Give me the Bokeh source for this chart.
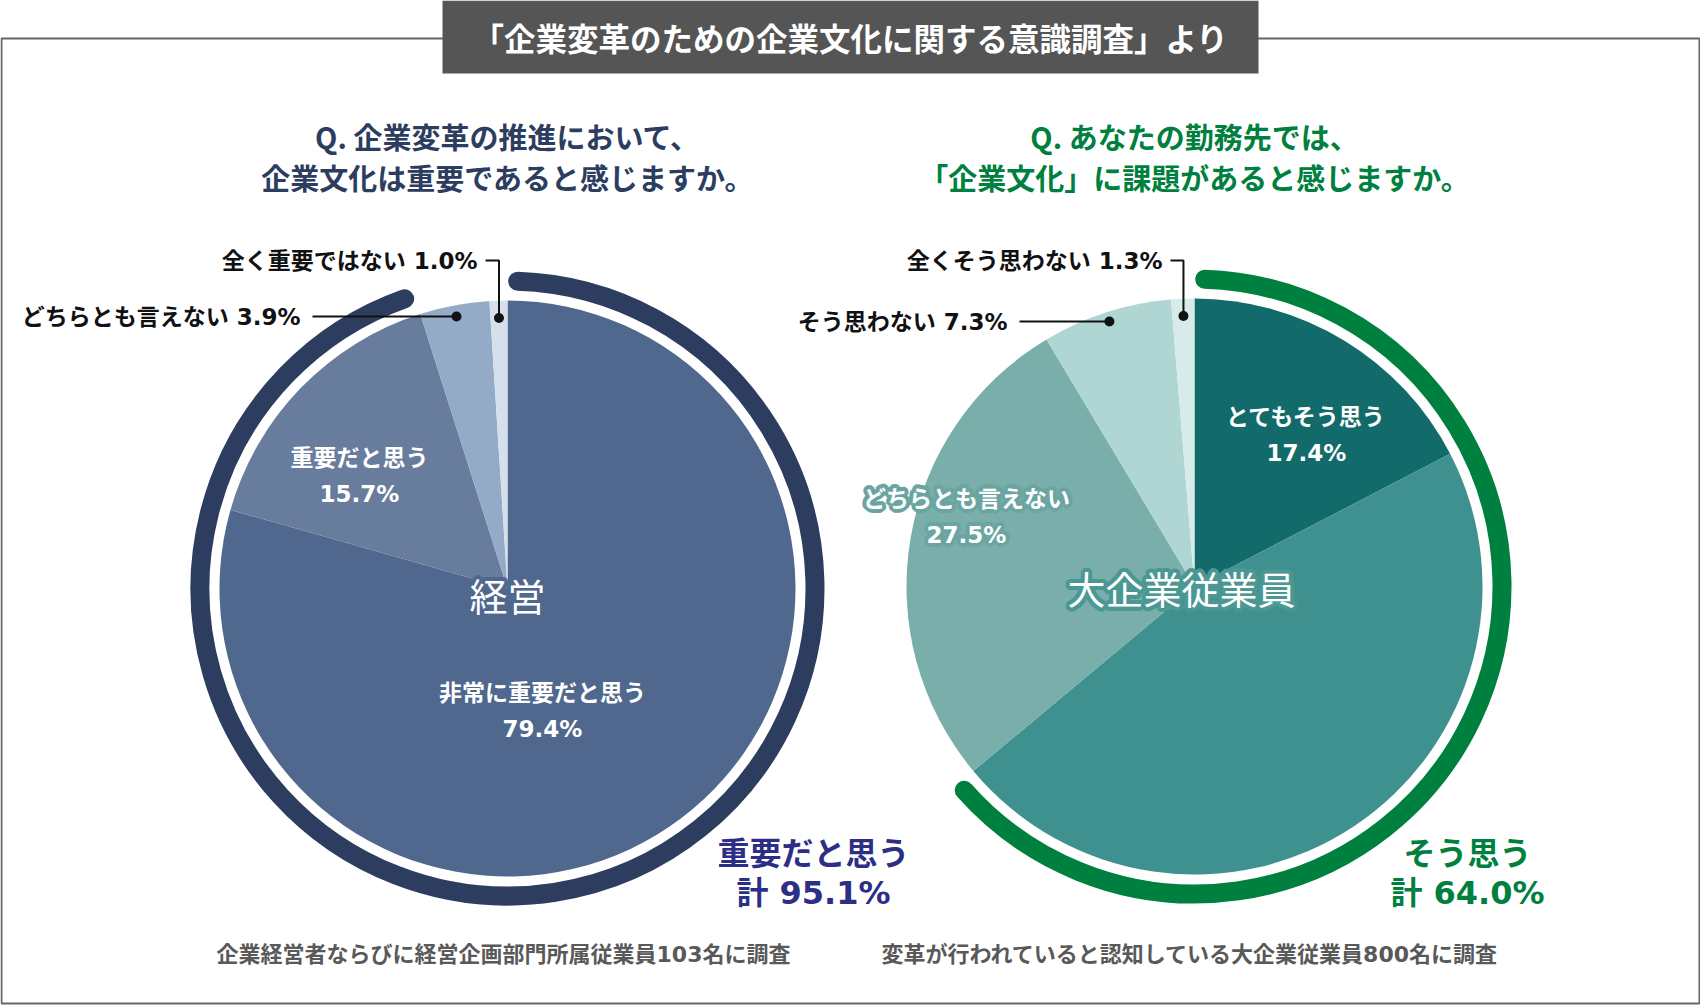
import numpy as np
from bokeh.plotting import figure
from bokeh.models import Range1d
from bokeh.core.properties import value
from bokeh.embed import file_html
from bokeh.resources import INLINE

W, H = 1700, 1005
FONT = value("Noto Sans CJK JP")
# wide Latin digits, Japanese glyphs fall back to Noto
NUM_FONT = value("'DejaVu Sans', 'Noto Sans CJK JP'")

# --- survey data ---------------------------------------------------------
title = "「企業変革のための企業文化に関する意識調査」より"

mgmt_question = ["Q. 企業変革の推進において、", "企業文化は重要であると感じますか。"]
mgmt_group = "経営"
mgmt_cats = ["非常に重要だと思う", "重要だと思う", "どちらとも言えない", "全く重要ではない"]
mgmt_vals = [79.4, 15.7, 3.9, 1.0]
mgmt_total_label = "重要だと思う"
mgmt_note = "企業経営者ならびに経営企画部門所属従業員103名に調査"

emp_question = ["Q. あなたの勤務先では、", "「企業文化」に課題があると感じますか。"]
emp_group = "大企業従業員"
emp_cats = ["とてもそう思う", "そう思う", "どちらとも言えない", "そう思わない", "全くそう思わない"]
emp_vals = [17.4, 46.6, 27.5, 7.3, 1.3]
emp_total_label = "そう思う"
emp_note = "変革が行われていると認知している大企業従業員800名に調査"

# --- styling ---------------------------------------------------------------
mgmt_colors = ["#50688e", "#687d9d", "#94abc8", "#d5e0ec"]
emp_colors = ["#136a6a", "#3e918f", "#79aeab", "#b0d6d4", "#d7ebea"]
NAVY = "#2c3d5f"
INDIGO = "#2d2f86"
GREEN = "#00803e"

R = 288          # pie radius (px)
RING_GAP = 19.5  # distance from pie edge to the middle of the summary ring
RING_W = 19
CAP = np.deg2rad(1.9)

# offsets used to paint a soft halo behind white text
_h = [(4 * np.cos(a), 4 * np.sin(a)) for a in np.linspace(0, 2 * np.pi, 16, endpoint=False)]
_h += [(2 * np.cos(a), 2 * np.sin(a)) for a in np.linspace(0, 2 * np.pi, 8, endpoint=False)]
HALO = _h


def Y(v):
    """Convert a top-down pixel position to the plot's y coordinate."""
    return H - v


def ang(frac):
    """Bokeh angle for a fraction of the circle, clockwise from 12 o'clock."""
    return np.pi / 2 - 2 * np.pi * frac


def polar(cx, cy, r, frac):
    t = 2 * np.pi * frac
    return cx + r * np.sin(t), cy - r * np.cos(t)


p = figure(width=W, height=H, x_range=Range1d(0, W), y_range=Range1d(0, H),
           output_backend="svg", toolbar_location=None, min_border=0,
           x_axis_location=None, y_axis_location=None)
p.grid.visible = False
p.outline_line_color = None
p.background_fill_color = "white"
p.border_fill_color = "white"


def halo_text(x, y, text, color, halo, **kw):
    """White text with a coloured halo around the glyphs."""
    if halo:
        hx = [xi + dx for xi in x for dx, dy in HALO]
        hy = [yi + dy for yi in y for dx, dy in HALO]
        ht = [t for t in text for _ in HALO]
        p.text(x=hx, y=hy, text=ht, text_color=halo, **kw)
    p.text(x=x, y=y, text=text, text_color=color, **kw)


# frame and heading box
p.quad(left=1, right=W - 1, top=Y(38), bottom=Y(1003), fill_color=None,
       line_color="#666666", line_width=2)
p.quad(left=442, right=1258, top=Y(0), bottom=Y(73), fill_color="#555555",
       line_color=None)
p.text(x=[850], y=[Y(36)], text=[title], text_font=FONT, text_font_size="31.5px",
       text_font_style="bold", text_color="white", text_align="center",
       text_baseline="middle")


def draw_panel(cx, cy, r_pie, cats, vals, colors, n_total, qcolor, ring_color,
               total_color, question, group, total_label, note, group_halo,
               inner_labels, outer_labels, total_xy, group_xy):
    vals = np.asarray(vals, dtype=float)
    fr = vals / vals.sum()
    cum = np.concatenate([[0], np.cumsum(fr)])

    # question heading
    p.text(x=[cx, cx], y=[Y(135), Y(176)], text=question, text_font=FONT,
           text_font_size="29px", text_font_style="bold", text_color=qcolor,
           text_align="center", text_baseline="middle")

    # summary ring for the positive answers
    total = vals[:n_total].sum()
    p.arc(x=cx, y=Y(cy), radius=r_pie + RING_GAP, start_angle=ang(0) - CAP,
          end_angle=ang(total / 100) + CAP, direction="clock",
          line_color=ring_color, line_width=RING_W, line_cap="round")

    # pie slices
    p.wedge(x=[cx] * len(vals), y=[Y(cy)] * len(vals), radius=r_pie,
            start_angle=ang(cum[:-1]), end_angle=ang(cum[1:]),
            direction="clock", fill_color=colors, line_color=None)

    # group name in the middle
    halo_text([group_xy[0]], [Y(group_xy[1])], [group], "white", group_halo,
              text_font=FONT, text_font_size="38px", text_align="center",
              text_baseline="middle")

    # labels inside the slices
    for i, (lx, ly, halo) in inner_labels.items():
        halo_text([lx, lx], [Y(ly), Y(ly + 36)],
                  [cats[i], f"{vals[i]:.1f}%"], "white", halo,
                  text_font=NUM_FONT, text_font_size="23px",
                  text_font_style="bold", text_align="center",
                  text_baseline="middle")

    # small slices: leader lines to labels outside
    for i, (tx, ty, elbow) in outer_labels.items():
        mid = (cum[i] + cum[i + 1]) / 2
        t = 2 * np.pi * mid
        if elbow:
            dx, dy = polar(cx, cy, r_pie * 0.94, mid)
            xs, ys = [tx + 8, dx, dx], [Y(ty), Y(ty), Y(dy)]
        else:
            # dot sits on the slice's centre line, level with its label
            r = (cy - ty) / np.cos(t)
            dx, dy = polar(cx, cy, r, mid)
            xs, ys = [tx + 12, dx], [Y(ty), Y(ty)]
        p.line(x=xs, y=ys, line_color="#111111", line_width=2)
        p.scatter(x=[dx], y=[Y(dy)], size=10, fill_color="#111111",
                  line_color=None)
        p.text(x=[tx], y=[Y(ty)], text=[f"{cats[i]} {vals[i]:.1f}%"],
               text_font=NUM_FONT, text_font_size="23px",
               text_font_style="bold", text_color="#111111",
               text_align="right", text_baseline="middle")

    # total of the positive answers
    tx, ty = total_xy
    p.text(x=[tx, tx], y=[Y(ty), Y(ty + 39)],
           text=[total_label, f"計 {total:.1f}%"], text_font=NUM_FONT,
           text_font_size="32px", text_font_style="bold",
           text_color=total_color, text_align="center",
           text_baseline="middle")

    # sample description
    p.text(x=[cx - 4], y=[Y(954)], text=[note], text_font=NUM_FONT,
           text_font_size="22px", text_font_style="bold",
           text_color="#595959", text_align="center", text_baseline="middle")


draw_panel(507, 588, R, mgmt_cats, mgmt_vals, mgmt_colors, 2, NAVY, NAVY,
           INDIGO, mgmt_question, mgmt_group, mgmt_total_label, mgmt_note,
           mgmt_colors[0],
           inner_labels={0: (542, 692, None), 1: (359, 457, None)},
           outer_labels={2: (300, 316, False), 3: (477, 260, True)},
           total_xy=(813, 853), group_xy=(507, 594))

draw_panel(1194, 586, R, emp_cats, emp_vals, emp_colors, 2, GREEN, GREEN,
           GREEN, emp_question, emp_group, emp_total_label, emp_note,
           "#4a9793",
           inner_labels={0: (1306, 416, None), 2: (966, 498, "#6aa5a2")},
           outer_labels={3: (1007, 321, False), 4: (1162, 260, True)},
           total_xy=(1467, 853), group_xy=(1181, 587))

open("out.html", "w").write(file_html(p, INLINE))
